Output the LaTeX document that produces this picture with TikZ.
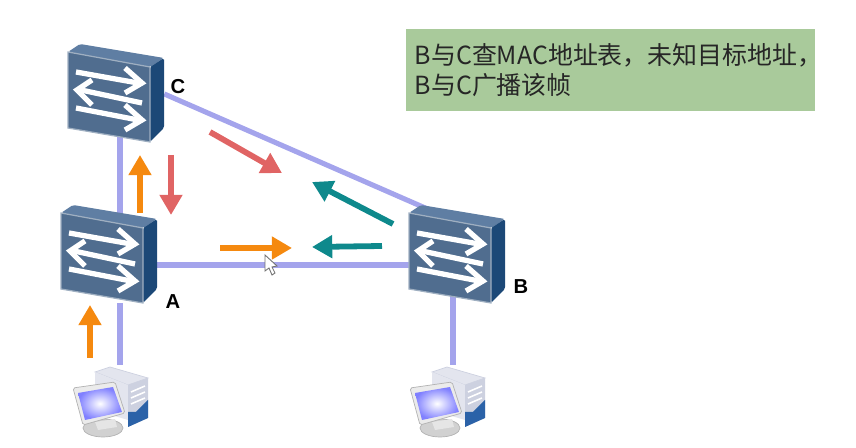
\documentclass[tikz,border=0pt]{standalone}
\usepackage{fontspec}
\setmainfont{Liberation Sans}
\newfontfamily\cjk{Noto Sans CJK SC}
\usetikzlibrary{arrows.meta}
\definecolor{LinkBlue}{HTML}{A4A4EC}
\definecolor{NoteGreen}{HTML}{A9CA9B}
\definecolor{FlowOrange}{HTML}{F5890F}
\definecolor{FlowRed}{HTML}{E06464}
\definecolor{FlowTeal}{HTML}{0E898C}
\definecolor{FaceBlue}{HTML}{506D8F}
\definecolor{TopBlue}{HTML}{5F7EA3}
\definecolor{SideBlue}{HTML}{1C4877}
\definecolor{HostGrey}{HTML}{E3E5EE}
\definecolor{HostShade}{HTML}{CDD1E0}
\definecolor{HostBlue}{HTML}{2B62A8}
\tikzstyle{SwitchNode}=[rectangle, minimum width=42.1pt, minimum height=43.2pt, inner sep=0pt]
\tikzstyle{HostNode}=[rectangle, minimum width=40pt, minimum height=39.8pt, inner sep=0pt]
\tikzstyle{Link}=[line width=2.9pt, LinkBlue]
\tikzstyle{FlowEdge}=[-{Triangle[length=11.5pt,width=12.5pt]}, line width=3.3pt]
\tikzstyle{OrangeEdge}=[FlowEdge, FlowOrange]
\tikzstyle{RedEdge}=[FlowEdge, FlowRed]
\tikzstyle{TealEdge}=[FlowEdge, FlowTeal]
\tikzstyle{SwitchLabel}=[font=\bfseries\fontsize{11.5}{13}\selectfont, inner sep=0pt]
\tikzstyle{NoteBox}=[rectangle, fill=NoteGreen, minimum width=232.8pt, minimum height=46.7pt, inner sep=5pt, text width=222.8pt, align=left, font=\cjk\fontsize{14.2}{17}\selectfont, text=black!85]
\tikzstyle{SwitchArrow}=[white, line width=3pt, miter limit=6]
\tikzset{
  SwitchPic/.pic={
    \fill[TopBlue, rounded corners=1pt] (-59,-52) -- (-47,-60) -- (37,-46) -- (23,-37) -- cycle;
    \fill[SideBlue, rounded corners=1pt] (23,-37) -- (37,-46) -- (37,24) -- (23,38) -- cycle;
    \fill[FaceBlue, draw=FaceBlue!55!white, line width=0.7pt] (-59,-52) -- (23,-37) -- (23,38) -- (-59,24) -- cycle;
    \draw[SwitchArrow] (-51,-32) -- (11,-21);
    \draw[SwitchArrow] (-2,-36) -- (15,-21) -- (-2,-11);
    \draw[SwitchArrow] (15,-1) -- (-46,-14);
    \draw[SwitchArrow] (-35,-24) -- (-50,-14) -- (-35,1);
    \draw[SwitchArrow] (-51,4) -- (11,16);
    \draw[SwitchArrow] (-2,1) -- (15,16) -- (-2,26);
  },
  HostPic/.pic={
    \fill[HostGrey, draw=HostShade, line width=0.4pt] (-25,-28) -- (-10,-33) -- (28,-22) -- (8,-15) -- cycle;
    \fill[HostGrey] (-25,-28) -- (8,-15) -- (8,20) -- (-25,10) -- cycle;
    \fill[HostShade] (8,-15) -- (28,-22) -- (28,18) -- (8,27) -- cycle;
    \fill[HostBlue] (8,12) -- (16,12) -- (28,0) -- (28,18) -- (8,27) -- cycle;
    \foreach \s in {-8,-2,4}
      \draw[white, line width=0.9pt] (11,\s) -- (25,\s-6);
    \fill[black!18, draw=black!30, line width=0.4pt] (-17,28) ellipse (20 and 9);
    \fill[black!10] (-25,22) -- (-5,19) -- (-3,27) -- (-22,30) -- cycle;
    \fill[black!8, draw=black!30, line width=0.4pt, rounded corners=1pt] (-47,-12) -- (-5,-18) -- (5,13) -- (-37,25) -- cycle;
    \shade[inner color=white, outer color=blue!50!white] (-42,-7) -- (-7,-13) -- (2,12) -- (-35,20) -- cycle;
  },
}

\begin{document}
\begin{tikzpicture}[x=0.02cm, y=-0.02cm]
\useasboundingbox (0,0) rectangle (856,448);

\node[SwitchNode](C) at (127,104) {};
\node[SwitchNode](A) at (120,265) {};
\node[SwitchNode](B) at (468,265) {};
\node[HostNode](PC1) at (120,400) {};
\node[HostNode](PC2) at (453,400) {};

\draw[Link](A |- C) -- (A);
\draw[Link](C.15) -- (B.north);
\draw[Link](A) -- (B);
\draw[Link](A) -- (PC1.north);
\draw[Link](PC2 |- B) -- (PC2.north);

\pic at (C) {SwitchPic};
\pic at (A) {SwitchPic};
\pic at (B) {SwitchPic};
\pic at (PC1) {HostPic};
\pic at (457,400) {HostPic};

\node[SwitchLabel](LabelC) at (178,87) {C};
\node[SwitchLabel](LabelA) at (173,302) {A};
\node[SwitchLabel](LabelB) at (521,287) {B};

\node[NoteBox](Note) at (610.5,70) {B与C查MAC地址表，未知目标地址，\\B与C广播该帧};

% flow arrows
\coordinate (O1a) at (90,358);
\coordinate (O1b) at (90,305);
\coordinate (O2a) at (140,213);
\coordinate (O2b) at (140,155);
\coordinate (O3a) at (220,248);
\coordinate (O3b) at (292,248);
\coordinate (R1a) at (171,155);
\coordinate (R1b) at (171,215);
\coordinate (R2a) at (210,132);
\coordinate (R2b) at (282,173);
\coordinate (T1a) at (393,224);
\coordinate (T1b) at (312,182);
\coordinate (T2a) at (382,246);
\coordinate (T2b) at (312,247);

\draw[OrangeEdge](O1a) -- (O1b);
\draw[OrangeEdge](O2a) -- (O2b);
\draw[OrangeEdge](O3a) -- (O3b);
\draw[RedEdge](R1a) -- (R1b);
\draw[RedEdge](R2a) -- (R2b);
\draw[TealEdge](T1a) -- (T1b);
\draw[TealEdge](T2a) -- (T2b);

% mouse pointer
\fill[white, draw=black!55, line width=0.5pt] (265,255) -- (265,271) -- (269,268) -- (272,275) -- (275,273) -- (272,267) -- (277,266) -- cycle;
\end{tikzpicture}
\end{document}
